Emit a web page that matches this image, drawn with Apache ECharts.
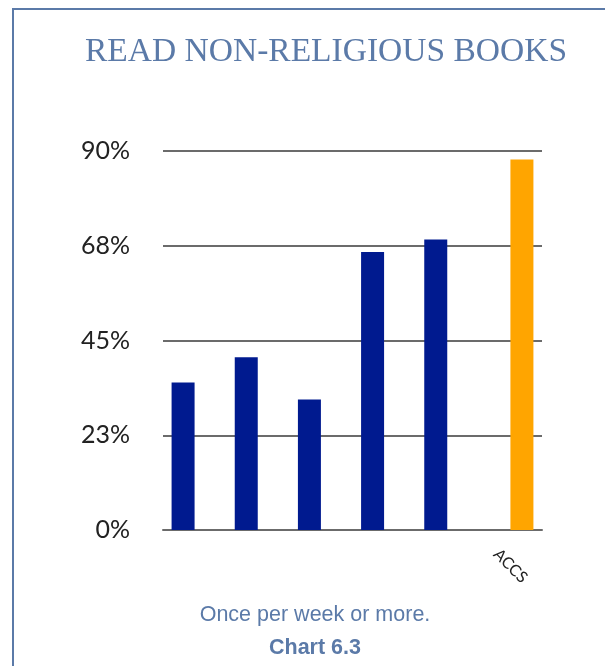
<!DOCTYPE html>
<html>
<head>
<meta charset="utf-8">
<script src="https://cdn.jsdelivr.net/npm/echarts@6/dist/echarts.min.js"></script>
<style>
  html, body { margin: 0; padding: 0; background: #fff; }
  #chart { width: 605px; height: 666px; }
</style>
</head>
<body>
<div id="chart"></div>
<script>
// Share of respondents who read non-religious books once per week or more
const categories = ['', '', '', '', '', 'ACCS'];
const groupValues = [35, 41, 31, 66, 69, null];
const accsValues = [null, null, null, null, null, 88];
const yTickLabels = ['0%', '23%', '45%', '68%', '90%'];

const frameColor = '#5b7aa8';
const gridColor = '#6b6b6b';

const chart = echarts.init(document.getElementById('chart'));
chart.setOption({
  animation: false,
  backgroundColor: '#ffffff',
  title: [
    {
      text: 'READ NON-RELIGIOUS BOOKS',
      left: 321, top: 30, textAlign: 'center',
      textStyle: { fontFamily: 'Liberation Serif', fontWeight: 'normal', fontSize: 33.5, color: frameColor }
    },
    {
      text: 'Once per week or more.',
      left: 310, top: 599, textAlign: 'center',
      textStyle: { fontFamily: 'Liberation Sans', fontWeight: 'normal', fontSize: 21.5, color: frameColor }
    },
    {
      text: 'Chart 6.3',
      left: 310, top: 632, textAlign: 'center',
      textStyle: { fontFamily: 'Liberation Sans', fontWeight: 'bold', fontSize: 21.5, color: frameColor }
    }
  ],
  graphic: [
    { type: 'line', shape: { x1: 13, y1: 9, x2: 13, y2: 666 }, style: { stroke: frameColor, lineWidth: 2 } },
    { type: 'line', shape: { x1: 12, y1: 9, x2: 605, y2: 9 }, style: { stroke: frameColor, lineWidth: 2 } }
  ],
  grid: { left: 163, right: 63, top: 151, bottom: 136 },
  xAxis: {
    type: 'category',
    data: categories,
    axisLine: { show: true, lineStyle: { color: gridColor, width: 2 } },
    axisTick: { show: false },
    axisLabel: {
      interval: 0, rotate: -45, margin: 36,
      align: 'center', verticalAlign: 'middle',
      fontFamily: 'Lato', fontSize: 16, color: '#222'
    }
  },
  yAxis: {
    type: 'value',
    min: 0, max: 90, interval: 22.5,
    axisLine: { show: false },
    axisTick: { show: false },
    splitLine: { lineStyle: { color: gridColor, width: 2 } },
    axisLabel: {
      margin: 33,
      fontFamily: 'Lato', fontSize: 25, color: '#222',
      formatter: v => yTickLabels[Math.round(v / 22.5)]
    }
  },
  series: [
    {
      type: 'bar', data: groupValues,
      barWidth: 23, barGap: '0%',
      itemStyle: { color: '#001a8f' }
    },
    {
      type: 'bar', data: accsValues,
      barWidth: 23,
      itemStyle: { color: '#ffa500' }
    }
  ]
});
</script>
</body>
</html>
